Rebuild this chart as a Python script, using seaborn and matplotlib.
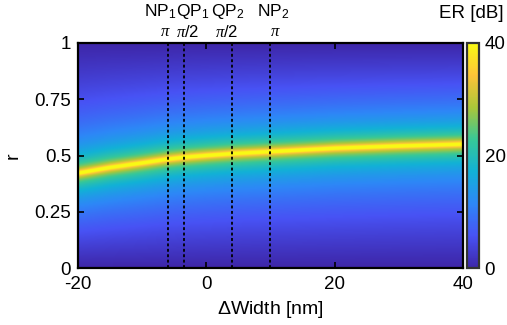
import numpy as np
import matplotlib
matplotlib.use('Agg')
import matplotlib.pyplot as plt
import seaborn as sns
from matplotlib.colors import LinearSegmentedColormap

# ridge of maximum ER (critical coupling r)
ridge_width = [-20, -15, -10, -6, -3.5, 0, 4, 10, 20, 30, 40]
ridge_r = [0.42, 0.445, 0.465, 0.482, 0.49, 0.498, 0.506, 0.515, 0.53, 0.54, 0.548]

# dashed markers and their labels
mark_x = [-6, -3.5, 4, 10]
name_labels = ['NP$_1$', 'QP$_1$', 'QP$_2$', 'NP$_2$']
name_x = [-7.2, -2.2, 3.4, 10.5]
phase_labels = [r'$\pi$', r'$\pi/2$', r'$\pi/2$', r'$\pi$']
phase_x = [-6.4, -2.9, 3.2, 10.7]

er_max = 40
x_ticks = [-20, 0, 20, 40]
y_ticks = [0, 0.25, 0.5, 0.75, 1]
y_ticklabels = ['0', '0.25', '0.5', '0.75', '1']
cb_ticks = [0, 20, 40]

# parula-like colormap
parula = LinearSegmentedColormap.from_list('parula', [
    (0.2422, 0.1504, 0.6603), (0.2810, 0.3228, 0.9579), (0.1786, 0.5289, 0.9682),
    (0.0689, 0.6948, 0.8394), (0.2161, 0.7843, 0.5923), (0.6720, 0.7793, 0.2227),
    (0.9970, 0.7659, 0.2199), (0.9769, 0.9839, 0.0805)])

sns.set_theme(style='ticks')
plt.rcParams['font.family'] = ['Liberation Sans', 'DejaVu Sans']
plt.rcParams['mathtext.fontset'] = 'custom'
plt.rcParams['mathtext.rm'] = 'Liberation Sans'
plt.rcParams['mathtext.it'] = 'Liberation Serif:italic'
plt.rcParams['axes.unicode_minus'] = False
plt.rcParams['text.color'] = 'black'
plt.rcParams['axes.labelcolor'] = 'black'

# ER field: ring extinction ratio with the read ridge as loss parameter
w = np.linspace(-20, 40, 400)
r = np.linspace(0, 1, 400)
W, R = np.meshgrid(w, r)
A = np.interp(W, ridge_width, ridge_r)
ratio = (A + R) * (1 - A * R) / (np.abs(A - R) * (1 + A * R) + 1e-12)
ER = np.clip(20 * np.log10(np.maximum(ratio, 1)), 0, er_max)

fig = plt.figure(figsize=(5.07, 3.25), dpi=100)
ax = fig.add_axes([0.154, 0.175, 0.759, 0.693])
im = ax.imshow(ER, origin='lower', extent=[-20, 40, 0, 1], aspect='auto',
               cmap=parula, vmin=0, vmax=er_max, interpolation='bilinear')

for xm in mark_x:
    ax.axvline(xm, color='black', lw=1.3, ls=(0, (1.6, 1.4)))

ax.set_xlim(-20, 40)
ax.set_ylim(0, 1)
ax.set_xticks(x_ticks)
ax.set_yticks(y_ticks)
ax.set_yticklabels(y_ticklabels)
ax.tick_params(direction='in', length=4, width=1.2, labelsize=13.5, colors='black',
               top=True, right=True)
ax.tick_params(axis='x', pad=6)
ax.tick_params(axis='y', pad=5)
for s in ax.spines.values():
    s.set_linewidth(1.6)
    s.set_color('black')
ax.set_xlabel(r'$\Delta$Width [nm]', fontsize=14, labelpad=4)
ax.set_ylabel('r', fontsize=14, labelpad=9)

for lab, xx in zip(name_labels, name_x):
    ax.text(xx, 1.138, lab, ha='center', va='center', fontsize=12.5,
            transform=ax.get_xaxis_transform())
for lab, xx in zip(phase_labels, phase_x):
    ax.text(xx, 1.049, lab, ha='center', va='center', fontsize=12,
            transform=ax.get_xaxis_transform())

cax = fig.add_axes([0.921, 0.175, 0.024, 0.693])
cb = fig.colorbar(im, cax=cax, ticks=cb_ticks)
cb.outline.set_linewidth(1.6)
cb.outline.set_edgecolor('#333333')
cax.tick_params(direction='in', length=4, width=1.2, labelsize=13.5, colors='black', pad=4)
fig.text(0.993, 0.96, 'ER [dB]', ha='right', va='center', fontsize=13.5)

fig.savefig('out.png', dpi=100)
